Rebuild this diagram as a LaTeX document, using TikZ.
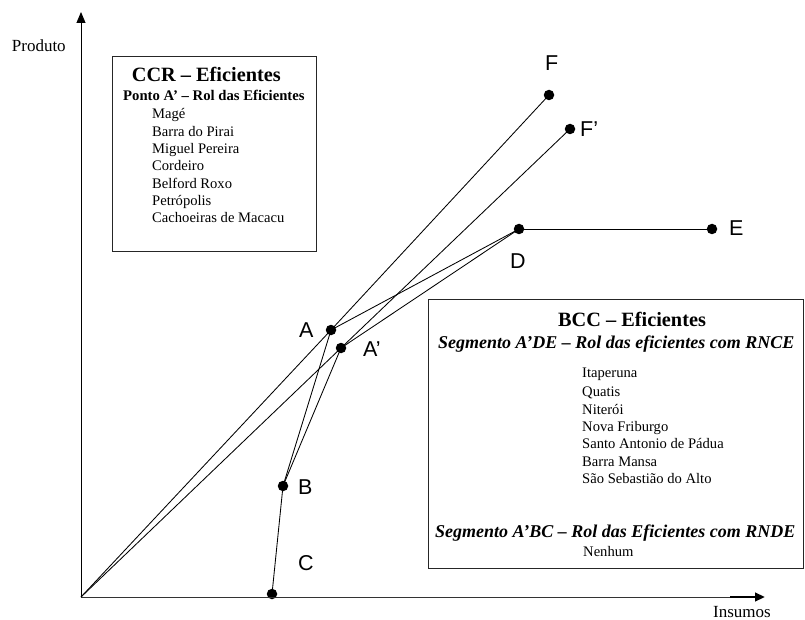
\documentclass[tikz,border=0pt]{standalone}
\usepackage{fontspec}
\setmainfont{Liberation Serif}
\newfontfamily\labsans{Liberation Sans}
\usetikzlibrary{arrows.meta}
\begin{document}
\begin{tikzpicture}[x=1pt,y=-1pt,
  dot/.style={circle,fill=black,inner sep=0pt,minimum size=10.5pt},
  conn/.style={line width=0.85pt},
  boxline/.style={line width=1pt,draw=black!85},
  pt/.style={anchor=base west,inner sep=0pt,font=\labsans\fontsize{21.5}{24}\selectfont},
  ttl/.style={anchor=base west,inner sep=0pt,font=\bfseries\fontsize{20.3}{23}\selectfont},
  sub/.style={anchor=base west,inner sep=0pt,font=\bfseries\fontsize{14.7}{17}\selectfont},
  subi/.style={anchor=base west,inner sep=0pt,font=\bfseries\itshape\fontsize{18}{20}\selectfont},
  item/.style={anchor=base west,inner sep=0pt,font=\fontsize{14.6}{17}\selectfont},
  axlab/.style={anchor=base west,inner sep=0pt,font=\fontsize{17}{19}\selectfont}]
\useasboundingbox (0,0) rectangle (805,620);
% points
\coordinate (O) at (81,597);
\coordinate (ytip) at (81,12);
\coordinate (xend) at (730,597);
\coordinate (xtip) at (765,597);
\node[dot] (A) at (331,330) {};
\node[dot] (Ap) at (341,348) {};
\node[dot] (B) at (283,486) {};
\node[dot] (C) at (272,594) {};
\node[dot] (D) at (519,229) {};
\node[dot] (E) at (712,229) {};
\node[dot] (F) at (549,95) {};
\node[dot] (Fp) at (570,129) {};
% axes
\draw[line width=0.9pt,-{Triangle[length=11pt,width=9pt]}] (O) -- (ytip);
\draw[line width=0.9pt,draw=black!80] (O) -- (xend);
\draw[line width=2.8pt,-{Triangle[length=10pt,width=8.5pt]}] (xend) -- (xtip);
% connectors
\draw[conn] (O) -- (A.center) -- (F.center);
\draw[conn] (O) -- (Ap.center) -- (Fp.center);
\draw[conn] (A.center) -- (D.center);
\draw[conn] (Ap.center) -- (D.center);
\draw[conn] (D.center) -- (E.center);
\draw[conn] (C.center) -- (B.center);
\draw[conn] (B.center) -- (A.center);
\draw[conn] (B.center) -- (Ap.center);
% point labels
\node[pt] (lA) at (299,337.3) {A};
\node[pt] (lAp) at (363,356) {A’};
\node[pt] (lB) at (298,494) {B};
\node[pt] (lC) at (298,570) {C};
\node[pt] (lD) at (510,268) {D};
\node[pt] (lE) at (729,236) {E};
\node[pt] (lF) at (545,70.7) {F};
\node[pt] (lFp) at (580,136.7) {F’};
% axis labels
\node[axlab] (prod) at (11.7,51.7) {Produto};
\node[axlab] (ins) at (713,617) {Insumos};
% CCR box
\draw[boxline] (112,57) rectangle (316,251);
\node[ttl] (ccrt) at (131.7,82) {CCR – Eficientes};
\node[sub] (ccrs) at (123,101) {Ponto A’ – Rol das Eficientes};
\node[item] (c1) at (152,119) {Magé};
\node[item] (c2) at (152,136.3) {Barra do Pirai};
\node[item] (c3) at (152,153.7) {Miguel Pereira};
\node[item] (c4) at (152,171) {Cordeiro};
\node[item] (c5) at (152,188.3) {Belford Roxo};
\node[item] (c6) at (152,205.7) {Petrópolis};
\node[item] (c7) at (152,223) {Cachoeiras de Macacu};
% BCC box
\draw[boxline] (428,299) rectangle (803,568);
\node[ttl] (bcct) at (558,326) {BCC – Eficientes};
\node[subi] (bccs1) at (438,348) {Segmento A’DE – Rol das eficientes com RNCE};
\node[item] (b1) at (582,377.3) {Itaperuna};
\node[item] (b2) at (582,396.7) {Quatis};
\node[item] (b3) at (582,414) {Niterói};
\node[item] (b4) at (582,431.3) {Nova Friburgo};
\node[item] (b5) at (582,448.7) {Santo Antonio de Pádua};
\node[item] (b6) at (582,466) {Barra Mansa};
\node[item] (b7) at (582,483.3) {São Sebastião do Alto};
\node[subi] (bccs2) at (435,537) {Segmento A’BC – Rol das Eficientes com RNDE};
\node[item] (b8) at (583,556) {Nenhum};
\end{tikzpicture}
\end{document}
